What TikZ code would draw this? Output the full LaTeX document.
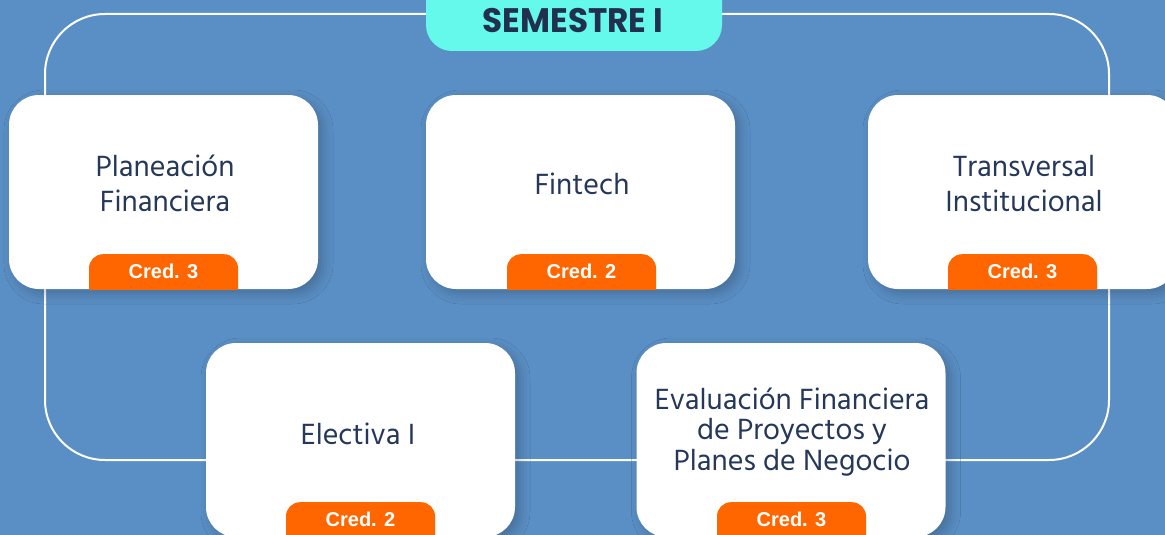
\documentclass[tikz,border=0pt]{standalone}
\usepackage{fontspec}
\usetikzlibrary{shadows.blur}
\newfontfamily\cardfont{Hind Madurai}
\newfontfamily\titlefont{Poppins}
\newfontfamily\credfont{Liberation Sans}
\definecolor{bgblue}{HTML}{5A8FC5}
\definecolor{pill}{HTML}{64F9EA}
\definecolor{navy}{HTML}{25385A}
\definecolor{titlenavy}{HTML}{22304F}
\definecolor{credorange}{HTML}{FF6600}
\tikzset{
  card/.style={fill=white, rounded corners=30pt, minimum width=309pt, minimum height=194pt, inner sep=0pt,
    blur shadow={shadow xshift=5pt, shadow yshift=-5pt, shadow blur radius=10pt, shadow opacity=22}},
  cardtext/.style={text=navy, font=\cardfont\fontsize{30}{35}\selectfont, align=center},
  badge/.style={fill=credorange, rounded corners=14pt, minimum width=149pt, minimum height=70pt, inner sep=0pt, anchor=north},
  credtext/.style={text=white, font=\credfont\bfseries\fontsize{20}{20}\selectfont, inner sep=0pt},
  frame/.style={draw=white, line width=2pt, rounded corners=60pt}
}
\begin{document}
\begin{tikzpicture}[x=1pt,y=-1pt]
\useasboundingbox (0,0) rectangle (1165,535);
\clip (0,0) rectangle (1165,535);
\fill[bgblue] (0,0) rectangle (1165,535);
% frame
\coordinate (fa) at (45,14);
\coordinate (fb) at (1109,460);
\draw[frame] (fa) rectangle (fb);
% title pill
\node[fill=pill, rounded corners=26pt, minimum width=296pt, minimum height=90pt, inner sep=0pt] (pill) at (574,6) {};
\node[text=titlenavy, font=\titlefont\bfseries\fontsize{34}{34}\selectfont, inner sep=0pt] (title) at (573,21) {\scalebox{0.96}[1]{SEMESTRE I}};
% cards
\node[card] (c1) at (163.5,192) {};
\node[card] (c2) at (580.5,192) {};
\node[card] (c3) at (1022.5,192) {};
\node[card] (c4) at (360.5,440) {};
\node[card] (c5) at (791,440) {};
% texts
\node[cardtext] (t1) at (165,183) {Planeación\\Financiera};
\node[cardtext] (t2) at (582,184) {Fintech};
\node[cardtext] (t3) at (1024,184) {Transversal\\Institucional};
\node[cardtext] (t4) at (358,434) {Electiva I};
\node[cardtext, font=\cardfont\fontsize{30}{30.5}\selectfont] (t5) at (792,432) {Evaluación Financiera\\de Proyectos y\\Planes de Negocio};
% badges
\begin{scope}
\clip (0,0) rectangle (1165,289);
\node[badge] (b1) at (163.5,254) {};
\node[badge] (b2) at (581.5,254) {};
\node[badge] (b3) at (1022.5,254) {};
\end{scope}
\node[badge] (b4) at (360.5,502) {};
\node[badge] (b5) at (791.5,502) {};
\node[credtext] (k1) at (163.5,271.5) {Cred. 3};
\node[credtext] (k2) at (581.5,271.5) {Cred. 2};
\node[credtext] (k3) at (1022.5,271.5) {Cred. 3};
\node[credtext] (k4) at (360.5,519.5) {Cred. 2};
\node[credtext] (k5) at (791.5,519.5) {Cred. 3};
\end{tikzpicture}
\end{document}
